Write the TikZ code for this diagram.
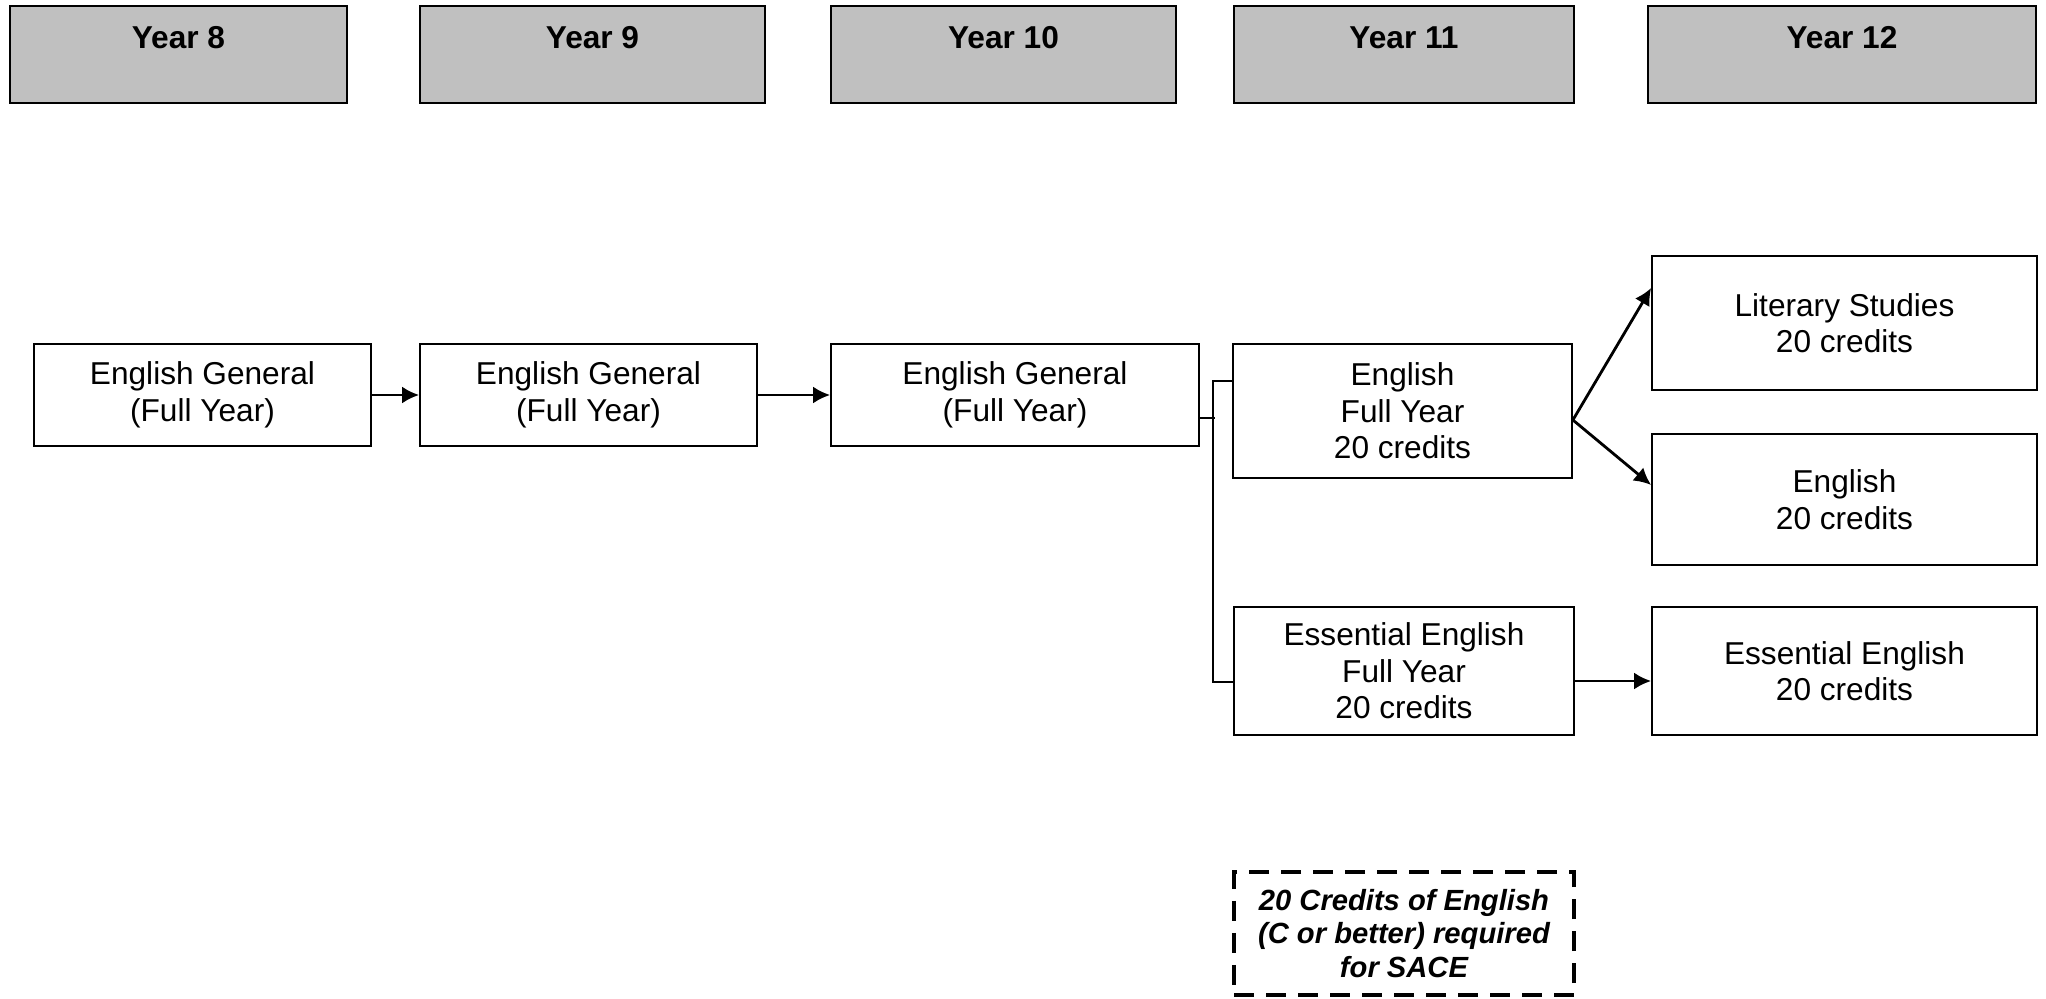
\documentclass[tikz,border=0pt]{standalone}
\usepackage{fontspec}
\setmainfont{Liberation Sans}
\usetikzlibrary{arrows.meta}
\definecolor{headgray}{RGB}{192,192,192}
\begin{document}
\begin{tikzpicture}[
    yearbox/.style={draw,line width=0.6pt,fill=headgray,minimum height=0.97cm,inner sep=0pt},
    yeartext/.style={font=\fontsize{9}{10.4}\selectfont\bfseries},
    course/.style={draw,line width=0.5pt,align=center,inner sep=0pt,font=\fontsize{9}{10.4}\selectfont},
    note/.style={draw,dashed,dash pattern=on 0.2cm off 0.12cm,line width=1.3pt,align=center,inner sep=0pt,
        font=\fontsize{8.3}{9.5}\selectfont\bfseries\itshape},
    link/.style={-{Latex[length=1.7mm,width=1.7mm]},line width=0.8pt},
    ]
    \useasboundingbox (0,0) rectangle (20.46,-9.99);
    % year headers
    \foreach \x/\w/\n in {1.785/3.37/8,5.925/3.45/9,10.035/3.45/10,14.04/3.40/11,18.42/3.88/12}{
        \node[yearbox,minimum width=\w cm] (y\n) at (\x,-0.545) {};
        \node[yeartext] (t\n) at (\x,-0.38) {Year \n};
    }
    % courses
    \node[course,minimum width=3.37cm,minimum height=1.02cm] (eg8) at (2.025,-3.95) {English General\\(Full Year)};
    \node[course,minimum width=3.37cm,minimum height=1.02cm] (eg9) at (5.885,-3.95) {English General\\(Full Year)};
    \node[course,minimum width=3.68cm,minimum height=1.02cm] (eg10) at (10.15,-3.95) {English General\\(Full Year)};
    \node[course,minimum width=3.39cm,minimum height=1.34cm] (en11) at (14.025,-4.11) {English\\Full Year\\20 credits};
    \node[course,minimum width=3.40cm,minimum height=1.28cm] (ess11) at (14.04,-6.71) {Essential English\\Full Year\\20 credits};
    \node[course,minimum width=3.85cm,minimum height=1.34cm] (lit12) at (18.445,-3.23) {Literary Studies\\20 credits};
    \node[course,minimum width=3.85cm,minimum height=1.31cm] (en12) at (18.445,-4.995) {English\\20 credits};
    \node[course,minimum width=3.85cm,minimum height=1.28cm] (ess12) at (18.445,-6.71) {Essential English\\20 credits};
    \node[note,minimum width=3.40cm,minimum height=1.23cm] (sace) at (14.04,-9.335) {20 Credits of English\\(C or better) required\\for SACE};
    % connectors
    \draw[link](eg8)--(eg9);
    \draw[link](eg9)--(eg10);
    \draw[line width=0.5pt]([yshift=-0.23cm]eg10.east)--++(0.15,0);
    \draw[line width=0.5pt]([yshift=0.30cm]en11.west)--++(-0.19,0)|-([yshift=-0.11cm]ess11.west);
    \draw[link]([yshift=-0.09cm]en11.east)--([yshift=0.35cm]lit12.west);
    \draw[link]([yshift=-0.09cm]en11.east)--([yshift=0.145cm]en12.west);
    \draw[link]([yshift=-0.10cm]ess11.east)--([yshift=-0.10cm]ess12.west);
\end{tikzpicture}
\end{document}
